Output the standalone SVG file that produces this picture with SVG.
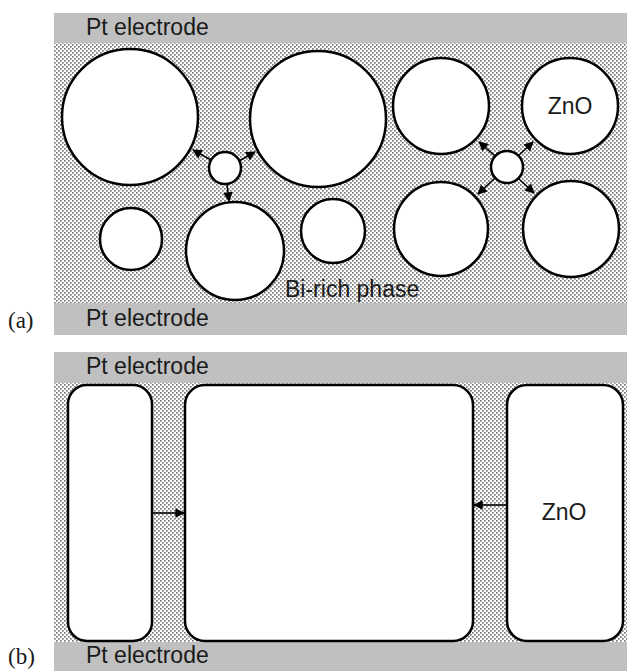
<svg xmlns="http://www.w3.org/2000/svg" width="627" height="671" viewBox="0 0 627 671">
<style>
.el{fill:#c0c0c0;}
.bi{fill:url(#dots);}
.g{fill:#fff;stroke:#000;stroke-width:2.5;}
.t{font-family:"Liberation Sans",Arial,sans-serif;font-size:23px;fill:#1a1a1a;}
.lab{font-family:"Liberation Serif","Times New Roman",serif;font-size:23px;fill:#1a1a1a;}
.ar{stroke:#000;stroke-width:1.6;fill:none;marker-end:url(#ah);}
</style>
<defs>
<pattern id="dots" width="4" height="4" patternUnits="userSpaceOnUse">
<rect width="4" height="4" fill="#fff"/>
<rect x="0" y="0" width="1.7" height="1.7" fill="#7a7a7a"/>
<rect x="2" y="2" width="1.7" height="1.7" fill="#7a7a7a"/>
</pattern>
<marker id="ah" viewBox="0 0 10 10" refX="9" refY="5" markerWidth="6.5" markerHeight="6" orient="auto" markerUnits="strokeWidth">
<path d="M0,0 L10,5 L0,10 z" fill="#000"/>
</marker>
</defs>
<rect width="627" height="671" fill="#fff"/>

<g id="panel-a">
<rect class="bi" x="54" y="43" width="573" height="260"/>
<g id="top-electrode-a"><rect class="el" x="54" y="13" width="573" height="30"/><text class="t" x="86" y="35">Pt electrode</text></g>
<g id="bottom-electrode-a"><rect class="el" x="54" y="303" width="573" height="32"/><text class="t" x="86" y="326">Pt electrode</text></g>
<g id="grain-a1"><circle class="g" cx="130" cy="117" r="68"/></g>
<g id="grain-a2"><circle class="g" cx="318" cy="119" r="68"/></g>
<g id="grain-a3"><circle class="g" cx="441" cy="106" r="48"/></g>
<g id="grain-a4"><circle class="g" cx="570" cy="106" r="48"/><text class="t" x="570" y="114" text-anchor="middle">ZnO</text></g>
<g id="grain-a5"><circle class="g" cx="225" cy="168" r="16"/></g>
<g id="grain-a6"><circle class="g" cx="507" cy="167" r="16"/></g>
<g id="grain-a7"><circle class="g" cx="131" cy="239" r="31"/></g>
<g id="grain-a8"><circle class="g" cx="235" cy="251" r="49"/></g>
<g id="grain-a9"><circle class="g" cx="333" cy="231" r="32"/></g>
<g id="grain-a10"><circle class="g" cx="441" cy="229" r="47"/></g>
<g id="grain-a11"><circle class="g" cx="571" cy="229" r="48"/></g>
<g id="label-birich"><text class="t" x="285" y="297">Bi-rich phase</text></g>
<g id="label-a"><text class="lab" x="8" y="328">(a)</text></g>
</g>

<g id="panel-b">
<rect class="bi" x="54" y="383" width="573" height="259"/>
<g id="top-electrode-b"><rect class="el" x="54" y="352" width="573" height="31"/><text class="t" x="86" y="374">Pt electrode</text></g>
<g id="bottom-electrode-b"><rect class="el" x="54" y="642" width="573" height="29"/><text class="t" x="86" y="663">Pt electrode</text></g>
<g id="grain-b1"><rect class="g" x="68" y="385" width="84" height="256" rx="19"/></g>
<g id="grain-b2"><rect class="g" x="185" y="385" width="288" height="256" rx="20"/></g>
<g id="grain-b3"><rect class="g" x="507" y="385" width="116" height="256" rx="20"/><text class="t" x="564" y="520" text-anchor="middle">ZnO</text></g>
<g id="label-b"><text class="lab" x="8" y="664">(b)</text></g>
</g>

<g id="connectors">
<line class="ar" x1="211" y1="160" x2="193" y2="150"/>
<line class="ar" x1="239" y1="161" x2="255" y2="152"/>
<line class="ar" x1="227" y1="184" x2="229" y2="201"/>
<line class="ar" x1="495" y1="156" x2="479" y2="142"/>
<line class="ar" x1="518" y1="156" x2="533" y2="142"/>
<line class="ar" x1="495" y1="178" x2="478" y2="194"/>
<line class="ar" x1="518" y1="178" x2="534" y2="193"/>
<line class="ar" x1="153" y1="513" x2="184" y2="513"/>
<line class="ar" x1="506" y1="505" x2="474" y2="505"/>
</g>
</svg>
